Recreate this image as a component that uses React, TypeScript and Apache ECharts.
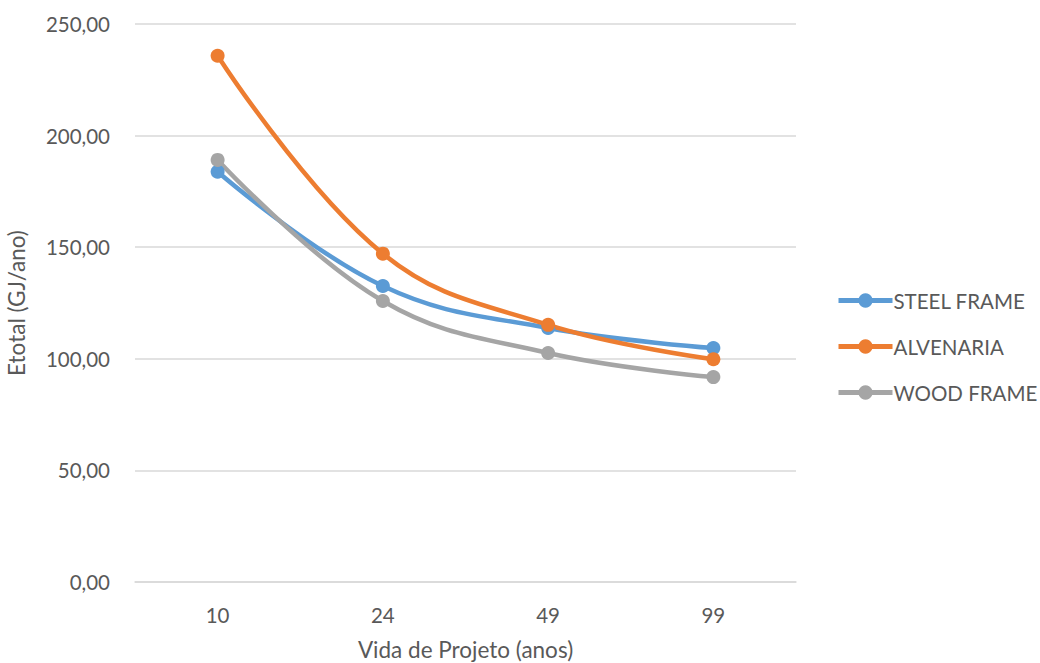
import React, { useEffect, useRef } from "react";
import * as echarts from "echarts";

const categories = ["10", "24", "49", "99"];
const steelFrame = [183.8, 132.6, 113.8, 104.8];
const alvenaria = [235.8, 147.1, 115.2, 99.8];
const woodFrame = [189.1, 125.9, 102.6, 91.8];
const seriesNames = ["STEEL FRAME", "ALVENARIA", "WOOD FRAME"];
const colors = ["#5B9BD5", "#ED7D31", "#A5A5A5"];

const FONT = "Lato";

export default function App() {
  const ref = useRef<HTMLDivElement>(null);
  useEffect(() => {
    if (!ref.current) return;
    const chart = echarts.init(ref.current, undefined, { renderer: "svg" });
    const data = [steelFrame, alvenaria, woodFrame];
    chart.setOption({
      animation: false,
      backgroundColor: "#ffffff",
      textStyle: { fontFamily: FONT },
      grid: { left: 135, right: 244, top: 24, bottom: 81, containLabel: false, outerBoundsMode: "none" },
      legend: {
        orient: "vertical",
        left: 831,
        top: 285,
        itemWidth: 54,
        itemHeight: 18,
        itemGap: 25,
        data: seriesNames,
        lineStyle: { width: 5 },
        textStyle: { fontFamily: FONT, fontSize: 20.5, color: "#595959", padding: [0, 0, 0, -4] },
      },
      xAxis: {
        type: "category",
        data: categories,
        boundaryGap: true,
        name: "Vida de Projeto (anos)",
        nameLocation: "middle",
        nameGap: 56,
        nameTextStyle: { fontFamily: FONT, fontSize: 22.5, color: "#595959" },
        axisLine: { lineStyle: { color: "#D9D9D9", width: 1.5 } },
        axisTick: { show: false },
        axisLabel: { fontFamily: FONT, fontSize: 20.5, color: "#595959", margin: 22 },
      },
      yAxis: {
        type: "value",
        min: 0,
        max: 250,
        interval: 50,
        name: "Etotal (GJ/ano)",
        nameLocation: "middle",
        nameGap: 107,
        nameTextStyle: { fontFamily: FONT, fontSize: 22.5, color: "#595959" },
        axisLine: { show: false },
        axisTick: { show: false },
        splitLine: { lineStyle: { color: "#D9D9D9", width: 1.5 } },
        axisLabel: {
          fontFamily: FONT,
          fontSize: 20.5,
          color: "#595959",
          margin: 25,
          formatter: (v: number) => v.toFixed(2).replace(".", ","),
        },
      },
      series: seriesNames.map((name, i) => ({
        name,
        type: "line",
        data: data[i],
        smooth: 0.4,
        symbol: "circle",
        symbolSize: 14,
        lineStyle: { width: 4.5, color: colors[i] },
        itemStyle: { color: colors[i] },
      })),
    });
    return () => chart.dispose();
  }, []);
  return <div ref={ref} style={{ width: 1040, height: 663, position: "absolute", left: 0, top: 0 }} />;
}
